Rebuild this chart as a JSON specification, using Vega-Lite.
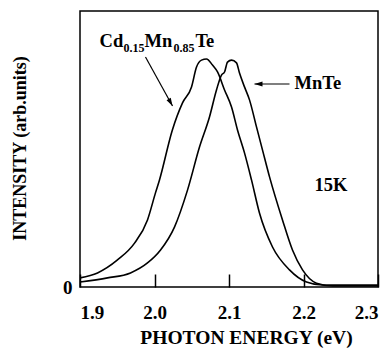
{
  "$schema": "https://vega.github.io/schema/vega-lite/v6.json",
  "autosize": {"type": "none"},
  "padding": {"left": 80, "top": 11, "right": 12, "bottom": 63},
  "width": 298,
  "height": 276,
  "background": "white",
  "config": {
    "view": {"stroke": "black", "strokeWidth": 1.5},
    "font": "Liberation Serif",
    "axis": {"grid": false, "domain": false, "labelFont": "Liberation Serif", "titleFont": "Liberation Serif", "labelFontWeight": "bold", "titleFontWeight": "bold", "labelColor": "black", "titleColor": "black", "tickColor": "black"}
  },
  "datasets": {
    "curves": [
      {"series": "Cd", "E": 1.900, "I": 0.033},
      {"series": "Cd", "E": 1.9235, "I": 0.051},
      {"series": "Cd", "E": 1.9503, "I": 0.098},
      {"series": "Cd", "E": 1.9732, "I": 0.159},
      {"series": "Cd", "E": 1.9906, "I": 0.243},
      {"series": "Cd", "E": 2.0013, "I": 0.341},
      {"series": "Cd", "E": 2.0067, "I": 0.388},
      {"series": "Cd", "E": 2.0240, "I": 0.569},
      {"series": "Cd", "E": 2.0376, "I": 0.667},
      {"series": "Cd", "E": 2.0497, "I": 0.725},
      {"series": "Cd", "E": 2.0564, "I": 0.797},
      {"series": "Cd", "E": 2.0631, "I": 0.822},
      {"series": "Cd", "E": 2.0698, "I": 0.826},
      {"series": "Cd", "E": 2.0779, "I": 0.804},
      {"series": "Cd", "E": 2.0846, "I": 0.779},
      {"series": "Cd", "E": 2.0940, "I": 0.714},
      {"series": "Cd", "E": 2.1034, "I": 0.652},
      {"series": "Cd", "E": 2.1114, "I": 0.569},
      {"series": "Cd", "E": 2.1208, "I": 0.486},
      {"series": "Cd", "E": 2.1302, "I": 0.388},
      {"series": "Cd", "E": 2.1409, "I": 0.268},
      {"series": "Cd", "E": 2.1584, "I": 0.145},
      {"series": "Cd", "E": 2.1812, "I": 0.062},
      {"series": "Cd", "E": 2.2040, "I": 0.018},
      {"series": "Cd", "E": 2.2255, "I": 0.007},
      {"series": "Cd", "E": 2.2926, "I": 0.007},
      {"series": "Cd", "E": 2.300, "I": 0.007},
      {"series": "MnTe", "E": 1.900, "I": 0.018},
      {"series": "MnTe", "E": 1.9369, "I": 0.033},
      {"series": "MnTe", "E": 1.9678, "I": 0.051},
      {"series": "MnTe", "E": 1.9906, "I": 0.087},
      {"series": "MnTe", "E": 2.0081, "I": 0.134},
      {"series": "MnTe", "E": 2.0268, "I": 0.217},
      {"series": "MnTe", "E": 2.0443, "I": 0.351},
      {"series": "MnTe", "E": 2.0604, "I": 0.507},
      {"series": "MnTe", "E": 2.0738, "I": 0.616},
      {"series": "MnTe", "E": 2.0832, "I": 0.714},
      {"series": "MnTe", "E": 2.0899, "I": 0.768},
      {"series": "MnTe", "E": 2.0940, "I": 0.779},
      {"series": "MnTe", "E": 2.0980, "I": 0.815},
      {"series": "MnTe", "E": 2.1034, "I": 0.822},
      {"series": "MnTe", "E": 2.1101, "I": 0.812},
      {"series": "MnTe", "E": 2.1141, "I": 0.775},
      {"series": "MnTe", "E": 2.1208, "I": 0.725},
      {"series": "MnTe", "E": 2.1275, "I": 0.678},
      {"series": "MnTe", "E": 2.1369, "I": 0.580},
      {"series": "MnTe", "E": 2.1450, "I": 0.496},
      {"series": "MnTe", "E": 2.1544, "I": 0.399},
      {"series": "MnTe", "E": 2.1718, "I": 0.243},
      {"series": "MnTe", "E": 2.1852, "I": 0.134},
      {"series": "MnTe", "E": 2.1987, "I": 0.062},
      {"series": "MnTe", "E": 2.2174, "I": 0.014},
      {"series": "MnTe", "E": 2.2389, "I": 0.004},
      {"series": "MnTe", "E": 2.2926, "I": 0.004},
      {"series": "MnTe", "E": 2.300, "I": 0.004}
    ],
    "arrows": [
      {"name": "Cd", "E1": 1.9879, "I1": 0.8333, "E2": 2.0242, "I2": 0.6558},
      {"name": "MnTe", "E1": 2.1812, "I1": 0.7355, "E2": 2.1342, "I2": 0.7355}
    ],
    "labels": [
      {"text": "Cd", "kind": "main", "E": 1.9262, "I": 0.8696},
      {"text": "0.15", "kind": "sub", "E": 1.9584, "I": 0.8514},
      {"text": "Mn", "kind": "main", "E": 1.9866, "I": 0.8696},
      {"text": "0.85", "kind": "sub", "E": 2.0255, "I": 0.8514},
      {"text": "Te", "kind": "main", "E": 2.0550, "I": 0.8696},
      {"text": "MnTe", "kind": "main", "E": 2.1879, "I": 0.7174},
      {"text": "15K", "kind": "main", "E": 2.2148, "I": 0.3478}
    ]
  },
  "layer": [
    {
      "data": {"name": "curves"},
      "mark": {"type": "line", "color": "black", "strokeWidth": 1.6, "interpolate": "monotone", "clip": true},
      "encoding": {
        "x": {"field": "E", "type": "quantitative", "scale": {"domain": [1.9, 2.3], "nice": false},
          "axis": {"values": [1.9, 2.0, 2.1, 2.2, 2.3], "format": ".1f", "tickSize": -13, "tickWidth": 1.5, "labelFontSize": 19, "labelPadding": 29,
            "title": "PHOTON ENERGY (eV)", "titleFontSize": 19.5, "titleX": 166, "titleY": 56, "titleBaseline": "alphabetic", "titleAnchor": "middle", "titleAlign": "center"}},
        "y": {"field": "I", "type": "quantitative", "scale": {"domain": [0, 1], "nice": false},
          "axis": {"values": [0], "format": "d", "ticks": false, "labelFontSize": 19, "labelPadding": 8, "labelBaseline": "middle",
            "title": "INTENSITY (arb.units)", "titleFontSize": 18, "titleX": -55, "titleY": 137, "titleBaseline": "alphabetic", "titleAngle": -90, "titleAlign": "center"}},
        "detail": {"field": "series", "type": "nominal"}
      }
    },
    {
      "data": {"name": "arrows"},
      "mark": {"type": "rule", "color": "black", "strokeWidth": 1.2},
      "encoding": {
        "x": {"field": "E1", "type": "quantitative"},
        "y": {"field": "I1", "type": "quantitative"},
        "x2": {"field": "E2"},
        "y2": {"field": "I2"}
      }
    },
    {
      "data": {"name": "arrows"},
      "transform": [{"filter": "datum.name == 'Cd'"}],
      "mark": {"type": "point", "shape": "M0,0L-0.3,1L0.3,1Z", "size": 256, "filled": true, "color": "black", "opacity": 1, "angle": 151, "strokeWidth": 0},
      "encoding": {
        "x": {"field": "E2", "type": "quantitative"},
        "y": {"field": "I2", "type": "quantitative"}
      }
    },
    {
      "data": {"name": "arrows"},
      "transform": [{"filter": "datum.name == 'MnTe'"}],
      "mark": {"type": "point", "shape": "M0,0L-0.3,1L0.3,1Z", "size": 256, "filled": true, "color": "black", "opacity": 1, "angle": 270, "strokeWidth": 0},
      "encoding": {
        "x": {"field": "E2", "type": "quantitative"},
        "y": {"field": "I2", "type": "quantitative"}
      }
    },
    {
      "data": {"name": "labels"},
      "transform": [{"filter": "datum.kind == 'main'"}],
      "mark": {"type": "text", "align": "left", "baseline": "alphabetic", "font": "Liberation Serif", "fontWeight": "bold", "fontSize": 18.5, "color": "black"},
      "encoding": {
        "x": {"field": "E", "type": "quantitative"},
        "y": {"field": "I", "type": "quantitative"},
        "text": {"field": "text"}
      }
    },
    {
      "data": {"name": "labels"},
      "transform": [{"filter": "datum.kind == 'sub'"}],
      "mark": {"type": "text", "align": "left", "baseline": "alphabetic", "font": "Liberation Serif", "fontWeight": "bold", "fontSize": 12, "color": "black"},
      "encoding": {
        "x": {"field": "E", "type": "quantitative"},
        "y": {"field": "I", "type": "quantitative"},
        "text": {"field": "text"}
      }
    }
  ]
}
